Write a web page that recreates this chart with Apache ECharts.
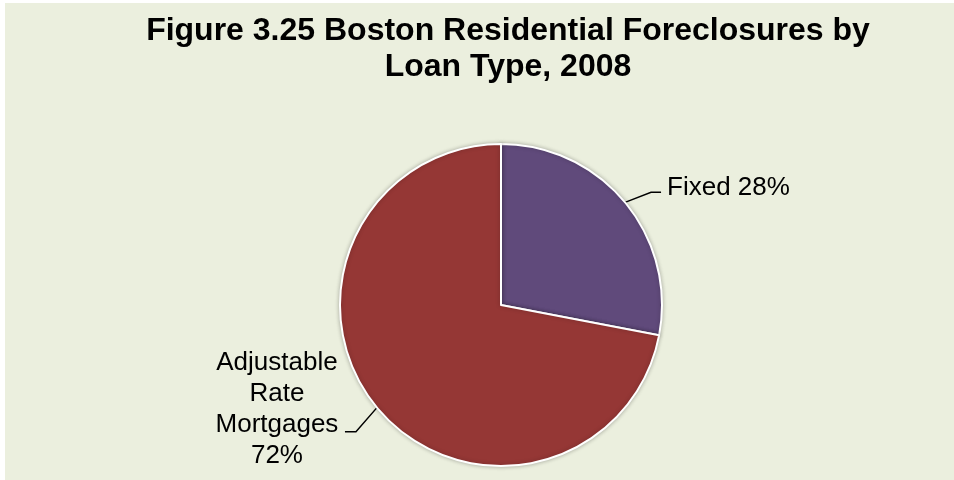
<!DOCTYPE html>
<html>
<head>
<meta charset="utf-8">
<script src="https://cdn.jsdelivr.net/npm/echarts@6/dist/echarts.min.js"></script>
<style>
  html, body { margin: 0; padding: 0; background: #ffffff; }
  #chart { width: 954px; height: 480px; }
</style>
</head>
<body>
<div id="chart"></div>
<script>
// Loan types and their share of 2008 residential foreclosures (percent)
var categories = ['Fixed', 'Adjustable Rate Mortgages'];
var shares = [28, 72];
var sliceColors = ['#604A7B', '#953735'];

var titleText = 'Figure 3.25 Boston Residential Foreclosures by\nLoan Type, 2008';

var chart = echarts.init(document.getElementById('chart'), null, { renderer: 'canvas' });

var FONT = '"Liberation Sans", Arial, sans-serif';

chart.setOption({
  backgroundColor: '#ffffff',
  animation: false,
  graphic: [{
    type: 'rect',
    z: -10,
    silent: true,
    shape: { x: 5, y: 3, width: 949, height: 477 },
    style: { fill: '#EBEFDE' }
  }],
  title: {
    text: titleText,
    left: 503,
    top: 8,
    textAlign: 'center',
    textStyle: {
      fontFamily: FONT,
      fontWeight: 'bold',
      fontSize: 32,
      lineHeight: 36,
      color: '#000000'
    }
  },
  series: [{
    type: 'pie',
    center: [501, 305],
    radius: [0, 161],
    startAngle: 90,
    clockwise: true,
    avoidLabelOverlap: false,
    data: categories.map(function (name, i) {
      return { name: name, value: shares[i], itemStyle: { color: sliceColors[i] } };
    }),
    itemStyle: {
      borderColor: '#ffffff',
      borderWidth: 2,
      shadowBlur: 4,
      shadowColor: 'rgba(0,0,0,0.25)'
    },
    label: {
      show: true,
      position: 'outside',
      fontFamily: FONT,
      fontSize: 26,
      lineHeight: 31,
      color: '#000000',
      formatter: function (p) {
        if (p.dataIndex === 0) {
          return p.name + ' ' + Math.round(p.percent) + '%';
        }
        return p.name.split(' ').join('\n') + '\n' + Math.round(p.percent) + '%';
      }
    },
    labelLine: {
      show: true,
      length: 20,
      length2: 10,
      lineStyle: { color: '#000000', width: 1.5 }
    },
    labelLayout: function (params) {
      var pts = params.labelLinePoints;
      if (!pts) { return {}; }
      var a = pts[0];
      var b, c;
      if (params.dataIndex === 0) {
        b = [a[0] + 26, a[1] - 10];
        c = [b[0] + 10, b[1]];
        return {
          x: c[0] + 6, y: c[1] - 5,
          align: 'left', verticalAlign: 'middle',
          labelLinePoints: [a, b, c]
        };
      }
      b = [a[0] - 21, a[1] + 24];
      c = [b[0] - 11, b[1]];
      return {
        x: c[0] - 68, y: c[1] - 22,
        align: 'center', verticalAlign: 'middle',
        labelLinePoints: [a, b, c]
      };
    }
  }]
});
</script>
</body>
</html>
